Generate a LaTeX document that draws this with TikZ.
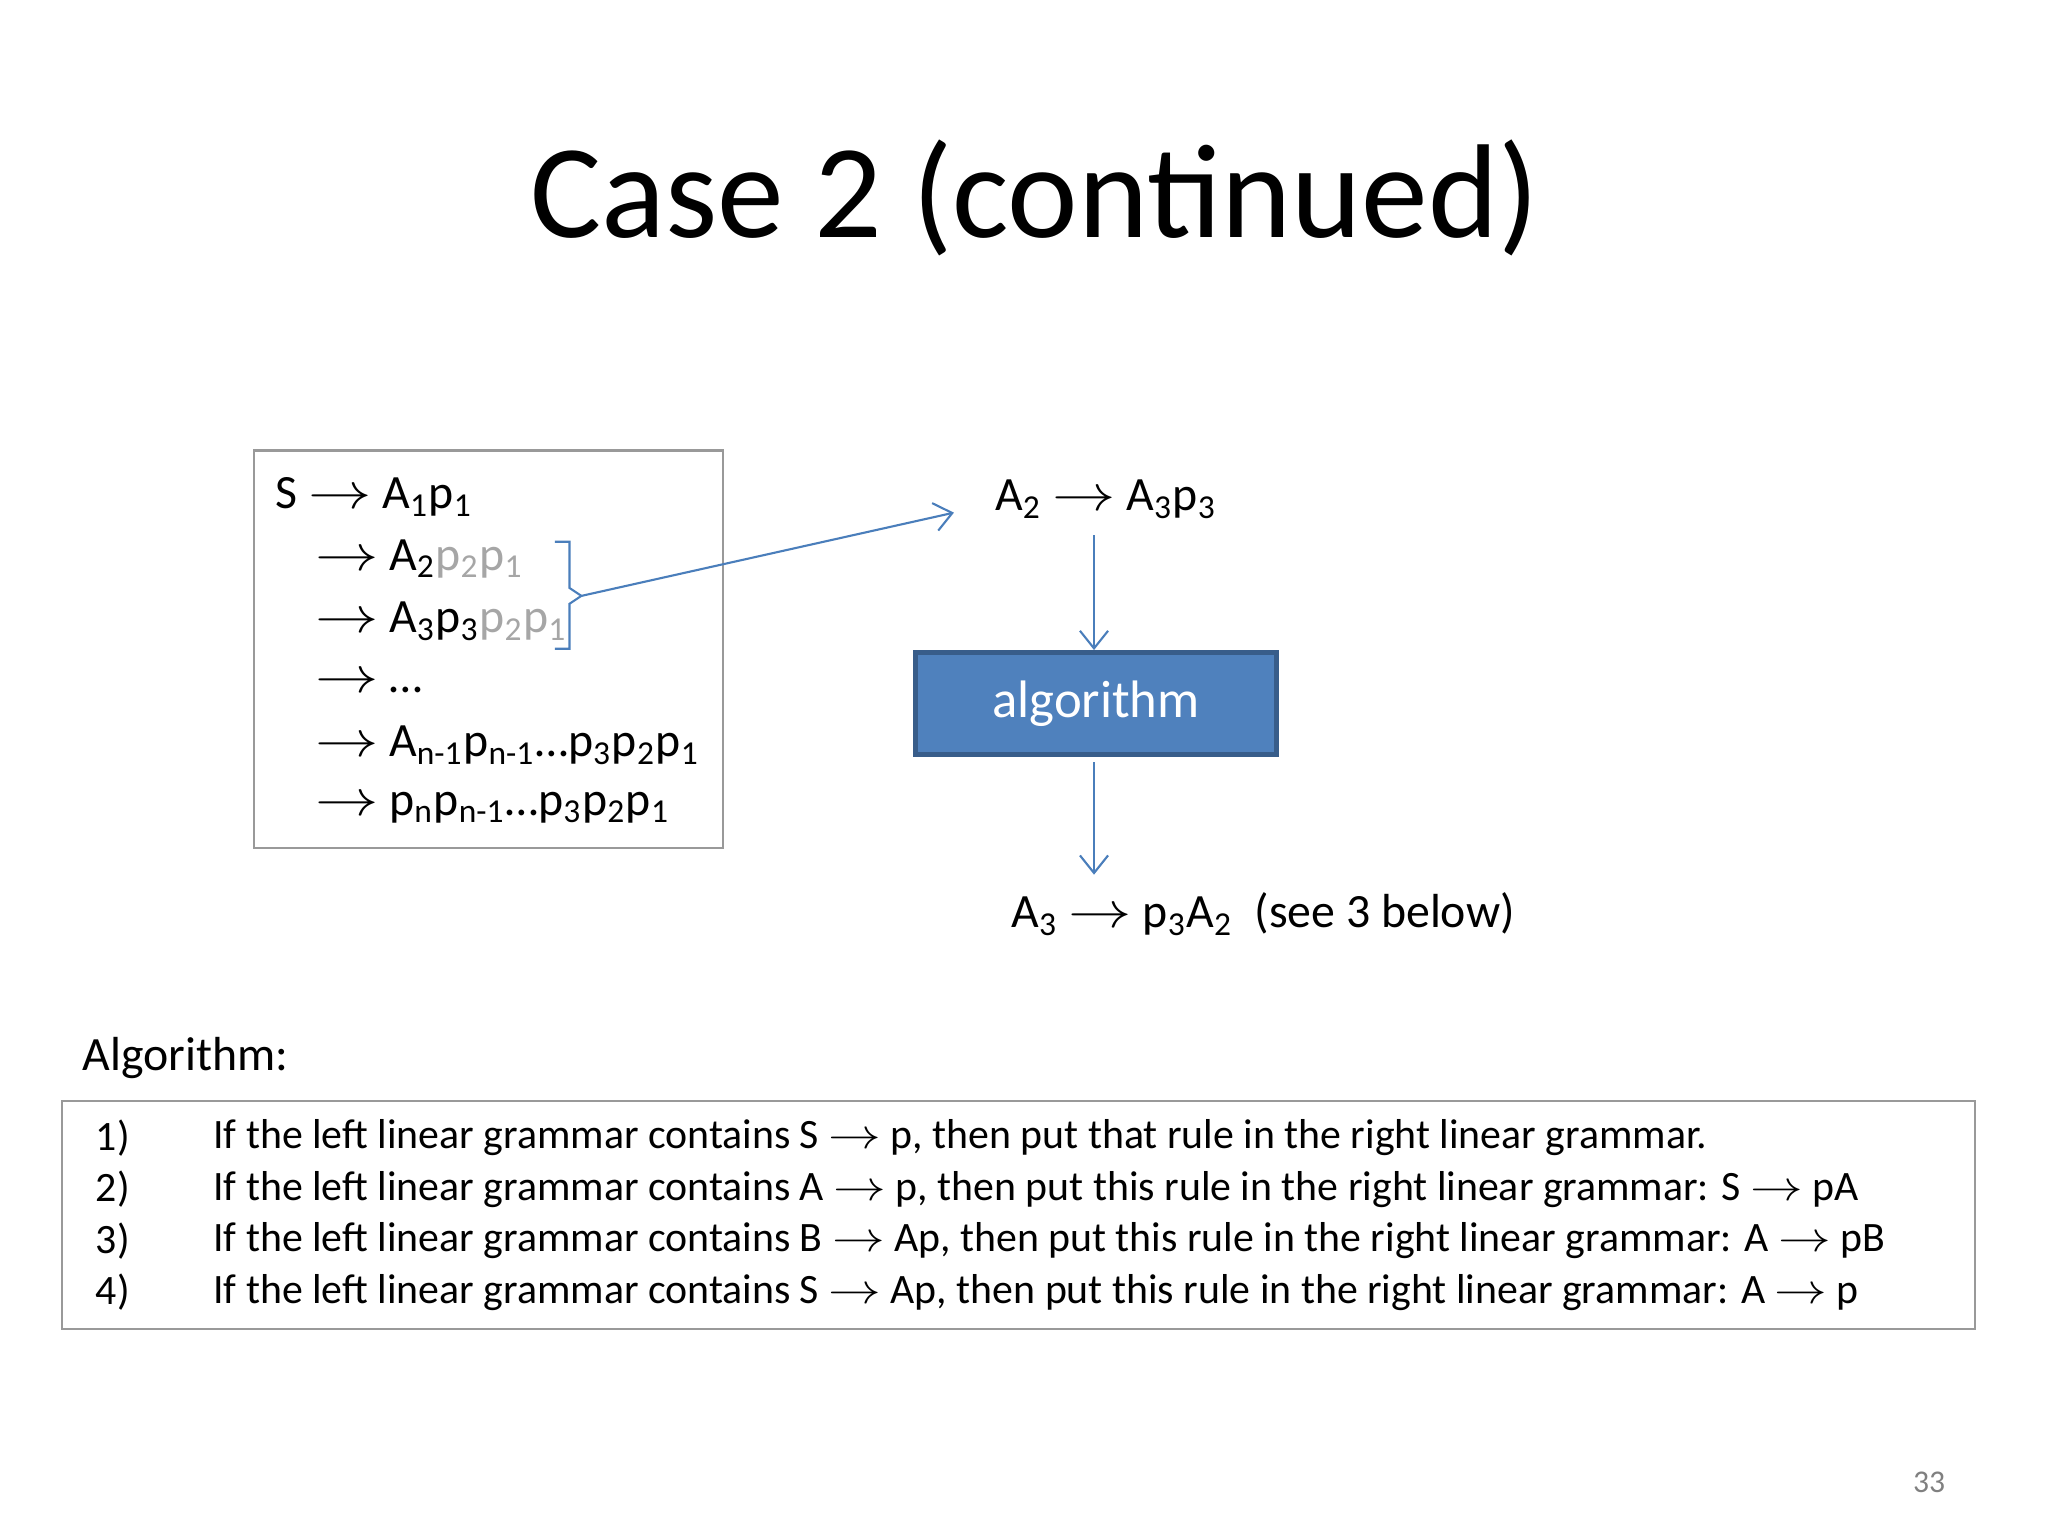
\documentclass[tikz,border=0pt]{standalone}
\usepackage{fontspec}
\setmainfont{Carlito}
\usetikzlibrary{arrows.meta}
\newcommand{\ra}{ \scalebox{1.25}[1]{$\rightarrow$} }
\newcommand{\sbs}[1]{\textsubscript{#1}}
\definecolor{lnblue}{HTML}{4A7EBB}
\definecolor{algfill}{HTML}{4F81BD}
\definecolor{algdraw}{HTML}{385D8A}
\definecolor{lg}{HTML}{A6A6A6}
\begin{document}
\begin{tikzpicture}[x=0.013213cm,y=-0.013213cm,
  gtxt/.style={anchor=west,inner sep=0pt,font=\fontsize{13.6}{16}\selectfont},
  ltxt/.style={anchor=west,inner sep=0pt,font=\fontsize{11.9}{14}\selectfont},
  conn/.style={draw=lnblue,line width=0.6pt,-{Straight Barb[length=5pt,width=8pt]}}]
\useasboundingbox (0,0) rectangle (1550,1162);
\node[font=\fontsize{38}{45}\selectfont] (title) at (783,150) {Case 2 (continued)};
\draw[gray!80,line width=0.6pt] (192,341) rectangle (547,642);
\node[gtxt] (l1) at (208,376) {S\ra A\sbs{1}p\sbs{1}};
\node[gtxt] (l2) at (238,423) {\ra A\sbs{2}\textcolor{lg}{p\sbs{2}p\sbs{1}}};
\node[gtxt] (l3) at (238,470) {\ra A\sbs{3}p\sbs{3}\textcolor{lg}{p\sbs{2}p\sbs{1}}};
\node[gtxt] (l4) at (238,517) {\ra …};
\node[gtxt] (l5) at (238,564) {\ra A\sbs{n-1}p\sbs{n-1}…p\sbs{3}p\sbs{2}p\sbs{1}};
\node[gtxt] (l6) at (238,611) {\ra p\sbs{n}p\sbs{n-1}…p\sbs{3}p\sbs{2}p\sbs{1}};
\coordinate (br) at (440,451);
\draw[lnblue,line width=0.6pt] (420,410) -- (431,410) -- (431,445) -- (br) -- (431,457) -- (431,491) -- (420,491);
\coordinate (tip) at (722,388);
\draw[conn] (br) -- (tip);
\node[gtxt,anchor=center] (r1) at (837,378) {A\sbs{2}\ra A\sbs{3}p\sbs{3}};
\node[draw=algdraw,fill=algfill,line width=1.5pt,minimum width=273*0.013213cm,minimum height=77*0.013213cm,inner sep=0pt,
  text=white,font=\fontsize{15}{18}\selectfont] (alg) at (829.5,532.5) {algorithm};
\node[gtxt] (r2) at (765,692) {A\sbs{3}\ra p\sbs{3}A\sbs{2}\ \ (see 3 below)};
\draw[conn] (828,405) -- (alg.north -| 828,0);
\draw[conn] (alg.south -| 828,0) ++(0,4) -- (828,662);
\node[gtxt] (algl) at (62,801) {Algorithm:};
\draw[gray!80,line width=0.6pt] (47,833) rectangle (1495,1006);
\foreach \y/\n/\t in {861/1)/{If the left linear grammar contains S\ra p, then put that rule in the right linear grammar.},
  900/2)/{If the left linear grammar contains A\ra p, then put this rule in the right linear grammar: S\ra pA},
  939/3)/{If the left linear grammar contains B\ra Ap, then put this rule in the right linear grammar: A\ra pB},
  978/4)/{If the left linear grammar contains S\ra Ap, then put this rule in the right linear grammar: A\ra p}}{
  \node[ltxt] (n\n) at (72,\y) {\n};
  \node[ltxt] (t\n) at (161,\y) {\t};
}
\node[text=gray,font=\fontsize{9}{11}\selectfont] (pg) at (1460,1122) {33};
\end{tikzpicture}
\end{document}
